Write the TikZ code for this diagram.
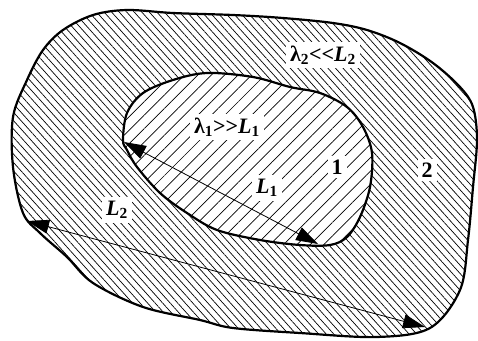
\documentclass[tikz,border=0pt]{standalone}
\usepackage{fontspec}
\setmainfont{Liberation Serif}
\usetikzlibrary{patterns.meta,arrows.meta}
\begin{document}
\begin{tikzpicture}[x=1pt,y=-1pt,
  bound/.style={line width=2.2pt,line join=round},
  dim/.style={line width=0.8pt,{Triangle[length=22pt,width=14pt]}-{Triangle[length=22pt,width=14pt]}},
  lab/.style={fill=white,inner sep=4pt,font=\bfseries\fontsize{22}{24}\selectfont}]
\useasboundingbox (0,0) rectangle (478,340);
\def\outerpath{plot[smooth cycle,tension=0.55] coordinates {
  (43,50) (63,30) (93,15) (127,10) (173,13) (233,15) (283,18) (333,23)
  (367,30) (400,43) (433,63) (460,87) (473,107) (477,140) (473,187)
  (468,240) (460,290) (430,328) (377,337) (300,333) (233,328) (200,320)
  (143,307) (93,283) (67,257) (40,233) (23,213) (13,167) (13,117) (27,80)}}
\def\innerpath{plot[smooth cycle,tension=0.55] coordinates {
  (123,140) (127,113) (143,93) (173,80) (207,73) (253,77) (290,87)
  (320,93) (347,107) (363,127) (372,153) (370,187) (360,217) (347,237)
  (330,245) (300,245) (260,240) (217,230) (187,213) (160,193) (137,167)
  (127,150)}}
\fill[pattern={Lines[angle=-48,distance=5.6pt,line width=0.7pt]}] \outerpath;
\fill[white] \innerpath;
\fill[pattern={Lines[angle=45,distance=9.5pt,line width=0.7pt]}] \innerpath;
\draw[bound] \outerpath;
\draw[bound] \innerpath;
\coordinate (a1) at (124,142);
\coordinate (b1) at (318,244);
\coordinate (a2) at (27,221);
\coordinate (b2) at (425,327);
\node[lab] (l2) at (323,55) {λ\textsubscript{2}<\kern0pt<\textit{L}\textsubscript{2}};
\node[lab] (l1) at (227,127) {λ\textsubscript{1}>\kern0pt>\textit{L}\textsubscript{1}};
\node[lab] (n1) at (337,167) {1};
\node[lab] (n2) at (427,170) {2};
\node[lab] (L1) at (267,188) {\textit{L}\textsubscript{1}};
\node[lab] (L2) at (117,210) {\textit{L}\textsubscript{2}};
\draw[dim] (a1) -- (b1);
\draw[dim] (a2) -- (b2);
\end{tikzpicture}
\end{document}
